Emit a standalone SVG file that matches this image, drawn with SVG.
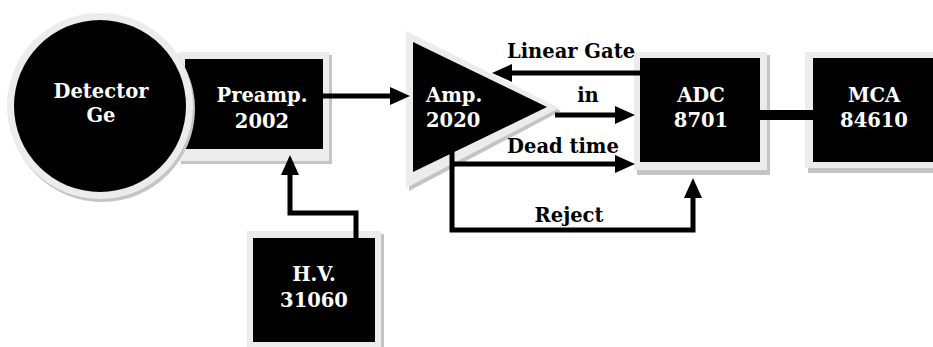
<svg xmlns="http://www.w3.org/2000/svg" width="933" height="347" viewBox="0 0 933 347">
<style>
.frame{fill:#ececec}
.shadow{fill:#c4c4c4}
.body{fill:#000}
.lbl{font-family:"DejaVu Serif","Liberation Serif",serif;font-weight:bold;font-size:19.5px;fill:#fff;text-anchor:middle}
.wl{font-family:"DejaVu Serif","Liberation Serif",serif;font-weight:bold;font-size:19.5px;fill:#000;text-anchor:middle}
.wire{fill:none;stroke:#000;stroke-width:5}
</style>
<defs>
<marker id="ah" markerUnits="userSpaceOnUse" markerWidth="20" markerHeight="18" refX="0" refY="9" orient="auto" overflow="visible">
<path d="M0,0 L20,9 L0,18 Z" fill="#000"/>
</marker>
</defs>
<rect width="933" height="347" fill="#fff"/>

<g id="preamp">
<rect class="shadow" x="181" y="55" width="151" height="109"/>
<rect class="frame" x="178" y="52" width="151" height="109"/>
<rect class="body" x="185" y="59" width="138" height="90"/>
<text class="lbl" x="262" y="102">Preamp.</text>
<text class="lbl" x="262" y="128">2002</text>
</g>

<g id="detector">
<circle class="shadow" cx="102" cy="109" r="93"/>
<circle class="frame" cx="100" cy="106" r="93"/>
<circle class="body" cx="100" cy="106" r="86"/>
<text class="lbl" x="101" y="98">Detector</text>
<text class="lbl" x="101" y="122">Ge</text>
</g>

<g id="amp">
<polygon class="shadow" points="409,34 409,191 561,111"/>
<polygon class="frame" points="406,31 406,188 559,108"/>
<polygon class="body" points="413,42 413,172 547,107"/>
<text class="lbl" x="426" y="102" style="text-anchor:start">Amp.</text>
<text class="lbl" x="426" y="127" style="text-anchor:start">2020</text>
</g>

<g id="adc">
<rect class="shadow" x="637" y="55" width="133" height="120"/>
<rect class="frame" x="634" y="52" width="133" height="118"/>
<rect class="body" x="640" y="58" width="120" height="104"/>
<text class="lbl" x="701" y="102">ADC</text>
<text class="lbl" x="701" y="127">8701</text>
</g>

<g id="mca">
<rect class="shadow" x="808" y="55" width="130" height="118"/>
<rect class="frame" x="805" y="52" width="130" height="116"/>
<rect class="body" x="813" y="58" width="125" height="104"/>
<text class="lbl" x="874" y="102">MCA</text>
<text class="lbl" x="874" y="127">84610</text>
</g>

<g id="hv">
<rect class="shadow" x="250" y="234" width="134" height="116"/>
<rect class="frame" x="247" y="231" width="134" height="116"/>
<rect class="body" x="253" y="238" width="122" height="104"/>
<text class="lbl" x="314" y="281">H.V.</text>
<text class="lbl" x="314" y="307">31060</text>
</g>

<g id="connectors">
<path class="wire" d="M323,96 H390" marker-end="url(#ah)"/>
<path class="wire" d="M640,73 H512" marker-end="url(#ah)"/>
<path class="wire" d="M555,115 H615" marker-end="url(#ah)"/>
<path class="wire" d="M450,164 H615" marker-end="url(#ah)"/>
<path class="wire" d="M452,150 V230 H693 V198" marker-end="url(#ah)"/>
<path class="wire" d="M356,238 V213 H290 V175" marker-end="url(#ah)"/>
<path d="M760,115 H813" stroke="#000" stroke-width="10" fill="none"/>
<text class="wl" x="571" y="58">Linear Gate</text>
<text class="wl" x="588" y="102">in</text>
<text class="wl" x="563" y="153">Dead time</text>
<text class="wl" x="569" y="222">Reject</text>
</g>
</svg>
